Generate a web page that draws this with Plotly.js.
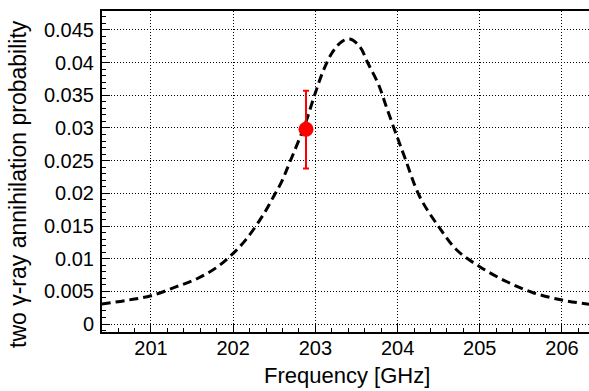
<!DOCTYPE html>
<html>
<head>
<meta charset="utf-8">
<script src="https://cdn.plot.ly/plotly-3.0.1.min.js"></script>
<style>
html,body{margin:0;padding:0;background:#fff;}
#chart{width:589px;height:391px;}
</style>
</head>
<body>
<div id="chart"></div>
<script>
// Fitted resonance curve
var curveFreq = [200.40, 200.70, 201.00, 201.31, 201.56, 201.80, 202.00, 202.16, 202.37, 202.49, 202.59, 202.69, 202.87, 203.00, 203.10, 203.20, 203.32, 203.42, 203.54, 203.64, 203.77, 203.87, 203.99, 204.09, 204.27, 204.50, 204.72, 205.00, 205.33, 205.65, 206.00, 206.33];
var curveProb = [0.00306, 0.00362, 0.00433, 0.00571, 0.00693, 0.00867, 0.01082, 0.01300, 0.01680, 0.01948, 0.02180, 0.02480, 0.03040, 0.03540, 0.03887, 0.04143, 0.04321, 0.04362, 0.04244, 0.03990, 0.03660, 0.03300, 0.02880, 0.02540, 0.01948, 0.01489, 0.01133, 0.00877, 0.00647, 0.00479, 0.00367, 0.00301];
// Measured point
var measFreq = [202.886];
var measProb = [0.0298];
var measErrUp = [0.0059];
var measErrDown = [0.0060];

var font = "Liberation Sans, Arial, Helvetica, sans-serif";

var traces = [
  {
    x: curveFreq, y: curveProb, type: 'scatter', mode: 'lines',
    line: {color: '#000', width: 3, dash: '9px,5px', shape: 'spline', smoothing: 1},
    hoverinfo: 'skip', showlegend: false
  },
  {
    x: measFreq, y: measProb, type: 'scatter', mode: 'markers',
    marker: {color: '#ff0000', size: 15},
    error_y: {type: 'data', symmetric: false, array: measErrUp, arrayminus: measErrDown,
              color: '#ff0000', thickness: 2, width: 3},
    showlegend: false
  }
];

var layout = {
  width: 589, height: 391,
  margin: {l: 102, r: 0, t: 11, b: 59, pad: 0},
  paper_bgcolor: '#fff', plot_bgcolor: '#fff',
  font: {family: font, size: 20, color: '#000'},
  xaxis: {
    range: [200.404, 206.329], dtick: 1, tick0: 201,
    ticks: 'inside', ticklen: 8, tickwidth: 1, tickcolor: '#000',
    ticklabelstandoff: -3,
    minor: {dtick: 0.2, ticks: 'inside', ticklen: 4, tickcolor: '#000', tickwidth: 1, showgrid: false},
    showgrid: true, gridcolor: '#000', griddash: '1px,2px', gridwidth: 1,
    zeroline: false, showline: true, linecolor: '#000', linewidth: 2, mirror: true,
    tickfont: {family: font, size: 20, color: '#000'}
  },
  yaxis: {
    range: [-0.00122, 0.0479], dtick: 0.005, tick0: 0,
    ticks: 'inside', ticklen: 8, tickwidth: 1, tickcolor: '#000',
    ticklabelstandoff: 2,
    minor: {dtick: 0.001, ticks: 'inside', ticklen: 4, tickcolor: '#000', tickwidth: 1, showgrid: false},
    showgrid: true, gridcolor: '#000', griddash: '1px,2px', gridwidth: 1,
    zeroline: false, showline: true, linecolor: '#000', linewidth: 2, mirror: false,
    tickfont: {family: font, size: 20, color: '#000'}
  },
  annotations: [
    {text: 'Frequency [GHz]', xref: 'paper', yref: 'paper', x: 0.503, y: -0.137,
     xanchor: 'center', yanchor: 'middle', showarrow: false,
     font: {family: font, size: 22, color: '#000'}},
    {text: 'two γ-ray annihilation probability', xref: 'paper', yref: 'paper', x: -0.1725, y: 0.461,
     xanchor: 'center', yanchor: 'middle', textangle: -90, showarrow: false,
     font: {family: font, size: 23, color: '#000'}}
  ]
};

Plotly.newPlot('chart', traces, layout, {staticPlot: true, displayModeBar: false});
</script>
</body>
</html>
